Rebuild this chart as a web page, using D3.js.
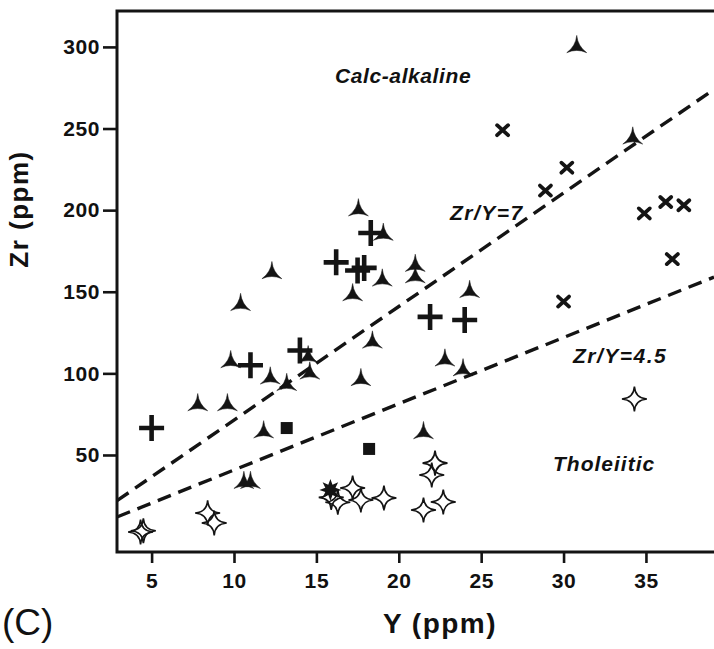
<!DOCTYPE html>
<html>
<head>
<meta charset="utf-8">
<script src="https://cdn.jsdelivr.net/npm/d3@7"></script>
<style>
  body { margin: 0; background: #fff; }
  text { font-family: "Liberation Sans", Arial, sans-serif; fill: #111; }
</style>
</head>
<body>
<svg id="chart"></svg>
<script>
// Values: [Y ppm, Zr ppm]
const triStars = [
  [30.8, 300], [34.2, 244], [17.55, 200], [19.06, 185], [12.3, 161.5], [10.4, 142],
  [19.0, 157], [21.0, 166], [21.0, 159], [17.2, 148], [24.3, 150], [18.4, 119],
  [9.8, 107], [14.5, 110], [22.8, 108], [12.2, 97], [13.2, 93], [14.6, 100],
  [17.7, 96], [23.9, 102], [7.8, 80.6], [9.6, 80.6], [11.8, 64], [21.5, 63.5],
  [10.6, 33], [11.0, 33]
];
const pluses = [
  [5, 66.5], [18.3, 186], [16.2, 168], [17.5, 163], [17.9, 164.6],
  [21.9, 134.6], [24.0, 132.7], [14.0, 114], [11.0, 105]
];
const crosses = [
  [26.3, 249], [30.2, 226], [28.9, 212], [34.9, 198], [36.2, 205],
  [37.3, 203], [36.6, 170], [30.0, 144]
];
const squares = [[13.2, 66.5], [18.2, 53.7]];
const filledStars = [[15.85, 28.6]];
const openStars = [
  [4.33, 2.8], [4.5, 3.6], [8.4, 14.5], [8.8, 8.3], [15.9, 24], [16.3, 21],
  [17.2, 29.8], [17.7, 22.4], [19.1, 23.6], [22.2, 45], [22.0, 37.7],
  [21.5, 16.3], [22.7, 21.2], [34.3, 84.3]
];
// dashed discriminant lines, end points in data units
const lineZrY7 = [[2.9, 22], [39.13, 274]];
const lineZrY45 = [[2.9, 12], [39.13, 159]];

const xTicks = [5, 10, 15, 20, 25, 30, 35];
const yTicks = [50, 100, 150, 200, 250, 300];

const W = 714, H = 649;
const margin = { top: 11, left: 117, bottom: 97 };

const svg = d3.select('#chart').attr('width', W).attr('height', H);

const x = d3.scaleLinear().domain([2.9, 39.13]).range([margin.left, W]);
const y = d3.scaleLinear().domain([-9.44, 322]).range([H - margin.bottom, margin.top]);

const ink = '#141414';

// frame
svg.append('path')
  .attr('d', `M${W + 2},${y(322)} H${x(2.9)} V${y(-9.44)} H${W + 2}`)
  .attr('fill', 'none').attr('stroke', ink).attr('stroke-width', 3);

// axes
const xAxis = svg.append('g')
  .attr('transform', `translate(0,${y(-9.44)})`)
  .call(d3.axisBottom(x).tickValues(xTicks).tickSize(11).tickPadding(10).tickFormat(d3.format('d')));
const yAxis = svg.append('g')
  .attr('transform', `translate(${x(2.9)},0)`)
  .call(d3.axisLeft(y).tickValues(yTicks).tickSize(14).tickPadding(3).tickFormat(d3.format('d')));

[xAxis, yAxis].forEach(g => {
  g.select('.domain').remove();
  g.selectAll('line').attr('stroke', ink).attr('stroke-width', 2.6);
  g.selectAll('text')
    .style('font-family', '"Liberation Sans", Arial, sans-serif')
    .style('font-size', '21px').style('font-weight', 'bold')
    .style('letter-spacing', '0.6px').attr('fill', ink);
});

// dashed lines
const line = d3.line().x(d => x(d[0])).y(d => y(d[1]));
[lineZrY7, lineZrY45].forEach(l => {
  svg.append('path').attr('d', line(l))
    .attr('fill', 'none').attr('stroke', ink)
    .attr('stroke-width', 3.4).attr('stroke-dasharray', '14,8');
});

// marker shapes: tips joined by curves bent toward the centre
function concaveStar(R, angles, f) {
  const p = angles.map(a => [R * Math.cos(a * Math.PI / 180), R * Math.sin(a * Math.PI / 180)]);
  let d = `M${p[0]}`;
  p.forEach((a, i) => {
    const b = p[(i + 1) % p.length];
    d += ` Q${(a[0] + b[0]) / 2 * f},${(a[1] + b[1]) / 2 * f} ${b}`;
  });
  return d + 'Z';
}
function burstPath(R, r, n) {
  const pts = [];
  for (let i = 0; i < n * 2; i++) {
    const a = Math.PI * i / n - Math.PI / 2;
    const rr = i % 2 ? r : R;
    pts.push([rr * Math.cos(a), rr * Math.sin(a)]);
  }
  return 'M' + pts.join('L') + 'Z';
}

const pos = d => `translate(${x(d[0])},${y(d[1])})`;

svg.append('g').selectAll('path').data(openStars).join('path')
  .attr('transform', pos).attr('d', concaveStar(12.5, [0, 90, 180, 270], 0.12))
  .attr('fill', 'none').attr('stroke', ink).attr('stroke-width', 1.6);

svg.append('g').selectAll('path').data(triStars).join('path')
  .attr('transform', pos).attr('d', concaveStar(11.5, [-90, 30, 150], 0.22))
  .attr('fill', ink).attr('stroke', ink).attr('stroke-width', 0.5);

svg.append('g').selectAll('path').data(pluses).join('path')
  .attr('transform', pos).attr('d', 'M-12.5,0H12.5M0,-13V13')
  .attr('stroke', ink).attr('stroke-width', 4.6).attr('fill', 'none');

svg.append('g').selectAll('path').data(crosses).join('path')
  .attr('transform', pos).attr('d', 'M-5.5,-5L5.5,5M-5.5,5L5.5,-5')
  .attr('stroke', ink).attr('stroke-width', 3.8).attr('stroke-linecap', 'round').attr('fill', 'none');

svg.append('g').selectAll('rect').data(squares).join('rect')
  .attr('transform', pos).attr('x', -6).attr('y', -6).attr('width', 12).attr('height', 12)
  .attr('fill', ink);

svg.append('g').selectAll('path').data(filledStars).join('path')
  .attr('transform', pos).attr('d', burstPath(11, 5.5, 8))
  .attr('fill', ink);

// region and line labels
const labels = [
  { t: 'Calc-alkaline', x: 335, y: 83, ls: 0.6 },
  { t: 'Zr/Y=7', x: 450, y: 220, ls: 1.5 },
  { t: 'Zr/Y=4.5', x: 573, y: 363, ls: 1.5 },
  { t: 'Tholeiitic', x: 553, y: 471, ls: 1 }
];
svg.append('g').selectAll('text').data(labels).join('text')
  .attr('x', d => d.x).attr('y', d => d.y)
  .style('font-size', '21px').style('font-weight', 'bold').style('font-style', 'italic')
  .style('letter-spacing', d => d.ls + 'px')
  .text(d => d.t);

// axis titles
svg.append('text')
  .attr('x', 440).attr('y', 633).attr('text-anchor', 'middle')
  .style('font-size', '28px').style('font-weight', 'bold').style('letter-spacing', '1.5px')
  .text('Y (ppm)');
svg.append('text')
  .attr('transform', 'translate(28,209) rotate(-90)').attr('text-anchor', 'middle')
  .style('font-size', '26px').style('font-weight', 'bold').style('letter-spacing', '1.5px')
  .text('Zr (ppm)');

// panel letter
svg.append('text')
  .attr('x', 2).attr('y', 635)
  .style('font-size', '37px')
  .text('(C)');
</script>
</body>
</html>
